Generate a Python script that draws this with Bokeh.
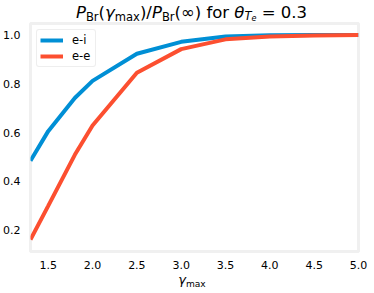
from bokeh.plotting import figure
from bokeh.models import Range1d, FixedTicker, Legend, LegendItem, Div
from bokeh.layouts import column
from bokeh.embed import file_html
from bokeh.resources import INLINE

# ---- data ----
gamma_max = [1.3, 1.5, 1.8, 2.0, 2.5, 3.0, 3.5, 4.0, 4.5, 5.0]
ratio_ei = [0.485, 0.606, 0.742, 0.812, 0.923, 0.972, 0.994, 0.999, 1.0, 1.0]
ratio_ee = [0.162, 0.300, 0.509, 0.629, 0.845, 0.942, 0.982, 0.994, 0.998, 1.0]
series_labels = ["e-i", "e-e"]
x_ticks = [1.5, 2.0, 2.5, 3.0, 3.5, 4.0, 4.5, 5.0]
x_tick_labels = ["1.5", "2.0", "2.5", "3.0", "3.5", "4.0", "4.5", "5.0"]
y_ticks = [0.2, 0.4, 0.6, 0.8, 1.0]
y_tick_labels = ["0.2", "0.4", "0.6", "0.8", "1.0"]

FONT = "DejaVu Sans"
BLUE = "#008fd5"
RED = "#fc4f30"

SUB = '<sub style="font-size:70%;vertical-align:-3px;line-height:0">{}</sub>'
SUB_T = '<sub style="font-size:70%;vertical-align:-2px;line-height:0">{}</sub>'
SUB_E = '<sub style="font-size:70%;vertical-align:-1px;line-height:0">{}</sub>'
SUB_X = '<sub style="font-size:70%;vertical-align:-2.5px;line-height:0">{}</sub>'
title_html = (
    "<i>P</i>" + SUB.format("Br") + "(<i>γ</i>" + SUB.format("max") + ")/"
    + "<i>P</i>" + SUB.format("Br") + "(∞) for <i>θ</i>"
    + SUB_T.format("<i>T</i>" + SUB_E.format("<i>e</i>")) + " = 0.3"
)
xlabel_html = "<i>γ</i>" + SUB_X.format("max")

title_div = Div(
    text=('<div style="box-sizing:border-box;width:374px;padding-left:9px;padding-top:5px;'
          'text-align:center;font-family:\'DejaVu Sans\';font-size:16.5px;line-height:16.5px;'
          'color:black;white-space:nowrap;">' + title_html + '</div>'),
    width=374, height=22, margin=(0, 0, 0, 0))

xlabel_div = Div(
    text=('<div style="box-sizing:border-box;width:374px;padding-left:10px;padding-top:1.5px;'
          'text-align:center;font-family:\'DejaVu Sans\';font-size:13px;line-height:13px;'
          'color:black;white-space:nowrap;">' + xlabel_html + '</div>'),
    width=374, height=22, margin=(0, 0, 0, 0))

p = figure(width=374, height=249, output_backend="svg", toolbar_location=None,
           x_range=Range1d(1.3, 5.0), y_range=Range1d(0.113, 1.047),
           min_border_left=27, min_border_right=16, min_border_top=1, min_border_bottom=16,
           margin=(0, 0, 0, 0))
p.background_fill_color = "white"
p.border_fill_color = "white"
p.outline_line_color = "#f0f0f0"
p.outline_line_width = 3
p.xgrid.visible = False
p.ygrid.visible = False

for ax in (p.xaxis[0], p.yaxis[0]):
    ax.axis_line_color = None
    ax.major_tick_line_color = None
    ax.minor_tick_line_color = None
    ax.major_label_text_font = FONT
    ax.major_label_text_font_size = "11px"
    ax.major_label_text_color = "black"
p.xaxis.ticker = FixedTicker(ticks=x_ticks)
p.xaxis.major_label_overrides = dict(zip(x_ticks, x_tick_labels))
p.yaxis.ticker = FixedTicker(ticks=y_ticks)
p.yaxis.major_label_overrides = dict(zip(y_ticks, y_tick_labels))
p.xaxis.major_label_standoff = 3
p.yaxis.major_label_standoff = 4

r1 = p.line(gamma_max, ratio_ei, line_color=BLUE, line_width=4)
r2 = p.line(gamma_max, ratio_ee, line_color=RED, line_width=4)

legend = Legend(items=[LegendItem(label=series_labels[0], renderers=[r1]),
                       LegendItem(label=series_labels[1], renderers=[r2])],
                location="top_left", margin=6, padding=3, spacing=2,
                glyph_width=23, glyph_height=14, label_height=14, label_standoff=9,
                label_text_font=FONT, label_text_font_size="11.5px", label_text_color="black",
                border_line_color="#dddddd", border_line_width=1,
                background_fill_color="white", background_fill_alpha=0.8)
try:
    legend.border_radius = 3
except Exception:
    pass
p.add_layout(legend)

layout = column(title_div, p, xlabel_div, spacing=0)

open("out.html", "w").write(file_html(layout, INLINE))
